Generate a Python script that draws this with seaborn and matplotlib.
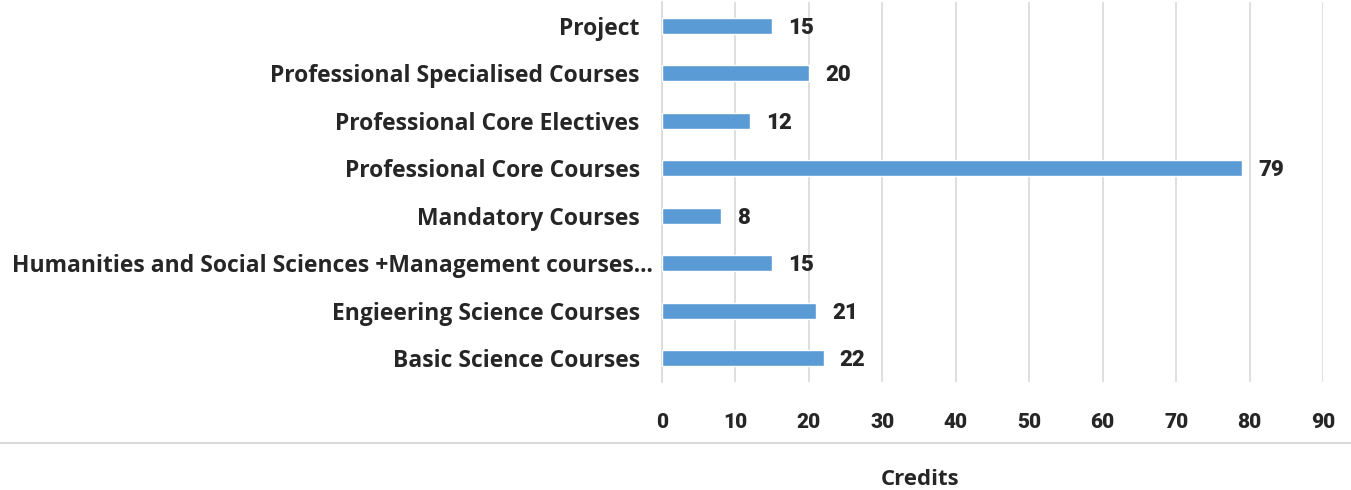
import pandas as pd
import seaborn as sns
import matplotlib.pyplot as plt
from matplotlib.lines import Line2D
from matplotlib.transforms import ScaledTranslation

# credit distribution per course category (top to bottom as drawn)
categories = ['Project', 'Professional Specialised Courses', 'Professional Core Electives',
              'Professional Core Courses', 'Mandatory Courses',
              'Humanities and Social Sciences +Management courses...',
              'Engieering Science Courses', 'Basic Science Courses']
credits = [15, 20, 12, 79, 8, 15, 21, 22]
x_ticks = [0, 10, 20, 30, 40, 50, 60, 70, 80, 90]

data = pd.DataFrame({'category': categories, 'credits': credits})

sns.set_style('white')
label_font = ['Open Sans', 'DejaVu Sans']
num_font = ['Roboto', 'DejaVu Sans']

fig = plt.figure(figsize=(13.51, 4.9), dpi=100)
ax = fig.add_axes([662 / 1351, 1 - 382 / 490, (1323 - 662) / 1351, 380 / 490])

sns.barplot(data=data, x='credits', y='category', color='#5B9BD5',
            width=0.34, saturation=1, ax=ax, zorder=3)

ax.set_xlim(0, 90)
ax.set_xticks(x_ticks)
ax.set_xticklabels([str(t) for t in x_ticks], fontsize=15, fontweight='black',
                   family=num_font)
ax.tick_params(axis='x', length=0, pad=22)
ax.tick_params(axis='y', length=0, pad=16)
for lbl in ax.get_yticklabels():
    lbl.set_fontsize(16.5)
    lbl.set_fontweight('bold')
    lbl.set_family(label_font)
    if lbl.get_text().endswith('...'):
        # the long label sits closer to the axis, as in the original
        lbl.set_transform(lbl.get_transform() + ScaledTranslation(0.13, 0, fig.dpi_scale_trans))

ax.grid(axis='x', color='#D9D9D9', linewidth=1.2, zorder=0)
for side in ['top', 'right', 'bottom']:
    ax.spines[side].set_visible(False)
ax.spines['left'].set_color('#D9D9D9')
ax.spines['left'].set_linewidth(1.2)
ax.set_xlabel('')
ax.set_ylabel('')

for i, v in enumerate(credits):
    ax.text(v + 2.2, i + 0.04, str(v), va='center', ha='left', fontsize=16,
            fontweight='black', family=num_font)

fig.add_artist(Line2D([0, 1], [1 - 443 / 490, 1 - 443 / 490], color='#D9D9D9',
                      linewidth=1.5, transform=fig.transFigure))
fig.text(920 / 1351, 1 - 479 / 490, 'Credits', ha='center', va='center',
         fontsize=16, fontweight='bold', family=label_font)

plt.savefig('out.png', dpi=100)
